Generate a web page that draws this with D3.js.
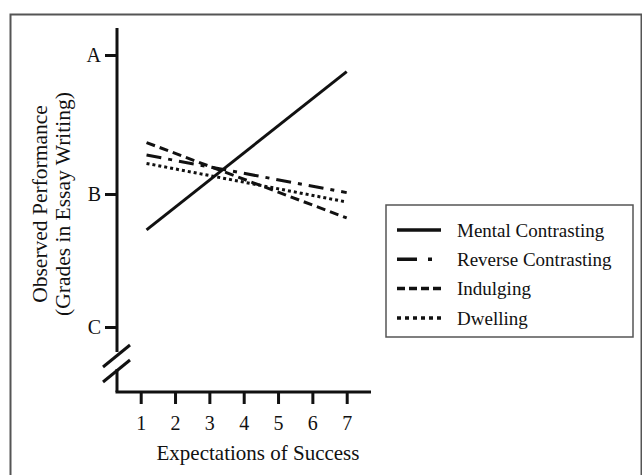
<!DOCTYPE html>
<html>
<head>
<meta charset="utf-8">
<script src="https://cdn.jsdelivr.net/npm/d3@7"></script>
<style>
  body { margin: 0; background: #fff; }
  svg text { font-family: "Liberation Serif", "Times New Roman", serif; fill: #111; }
</style>
</head>
<body>
<div id="chart"></div>
<script>
// expectation levels on the x axis
var expectations = [1, 2, 3, 4, 5, 6, 7];
// grade letters on the y axis (C = 2, B = 3, A = 4)
var gradeLabels = ["C", "B", "A"];
var gradeValues = [2, 3, 4];

// fitted lines: value at low end and at high end
var lineStart = 1.17, lineEnd = 7;
var seriesNames = ["Mental Contrasting", "Reverse Contrasting", "Indulging", "Dwelling"];
var mentalContrasting = [2.73, 3.88];
var reverseContrasting = [3.28, 3.01];
var indulging = [3.37, 2.82];
var dwelling = [3.22, 2.94];

var W = 642, H = 475;
var svg = d3.select("#chart").append("svg").attr("width", W).attr("height", H);

// frame round the figure
svg.append("rect")
    .attr("x", 10.5).attr("y", 14.5)
    .attr("width", 631).attr("height", 480)
    .attr("fill", "none").attr("stroke", "#555").attr("stroke-width", 2);

var axisX = 117, axisY = 392;

var x = d3.scaleLinear().domain([1, 7]).range([140.7, 346.7]);
// grades are not spaced quite evenly in the original
var y = d3.scaleLinear().domain(gradeValues).range([327, 194, 55]);

// y ticks + labels
var yAxis = svg.append("g")
    .attr("transform", "translate(" + axisX + ",0)")
    .call(d3.axisLeft(y).tickValues(gradeValues)
        .tickFormat(function(d, i){ return gradeLabels[i]; })
        .tickSize(12).tickPadding(4).tickSizeOuter(0));
yAxis.select(".domain").remove();
yAxis.selectAll("line").attr("stroke", "#111").attr("stroke-width", 3);
yAxis.selectAll("text").attr("font-size", 20).attr("font-family", null).attr("fill", null);

// x ticks + labels
var xAxis = svg.append("g")
    .attr("transform", "translate(0," + axisY + ")")
    .call(d3.axisBottom(x).tickValues(expectations)
        .tickFormat(d3.format("d"))
        .tickSize(12).tickPadding(12).tickSizeOuter(0));
xAxis.select(".domain").remove();
xAxis.selectAll("line").attr("stroke", "#111").attr("stroke-width", 3);
xAxis.selectAll("text").attr("font-size", 20).attr("font-family", null).attr("fill", null);

// axis lines, y axis has a break near the bottom
var axisG = svg.append("g").attr("stroke", "#111").attr("stroke-width", 3).attr("fill", "none");
axisG.append("line").attr("x1", axisX).attr("y1", 28).attr("x2", axisX).attr("y2", 352);
axisG.append("line").attr("x1", axisX).attr("y1", 369).attr("x2", axisX).attr("y2", axisY);
axisG.append("line").attr("x1", axisX - 1.5).attr("y1", axisY).attr("x2", 371).attr("y2", axisY);
axisG.append("line").attr("x1", 103).attr("y1", 367).attr("x2", 130).attr("y2", 345);
axisG.append("line").attr("x1", 103).attr("y1", 382).attr("x2", 130).attr("y2", 360);

// axis titles
svg.append("text")
    .attr("x", 258).attr("y", 460)
    .attr("text-anchor", "middle").attr("font-size", 21)
    .text("Expectations of Success");

var yTitle = svg.append("text")
    .attr("transform", "translate(47,204) rotate(-90)")
    .attr("text-anchor", "middle").attr("font-size", 21.5);
yTitle.append("tspan").attr("x", 0).attr("y", 0).text("Observed Performance");
yTitle.append("tspan").attr("x", 0).attr("y", 23).text("(Grades in Essay Writing)");

// series lines
var series = [
    {name: seriesNames[0], values: mentalContrasting, dash: null, legendDash: null},
    {name: seriesNames[1], values: reverseContrasting, dash: "15,7,4,7", legendDash: "20,11,4,100"},
    {name: seriesNames[2], values: indulging, dash: "9,5", legendDash: "8,4"},
    {name: seriesNames[3], values: dwelling, dash: "3,3", legendDash: "4,4"}
];

var line = d3.line().x(function(d){ return x(d[0]); }).y(function(d){ return y(d[1]); });

svg.append("g").selectAll("path")
    .data(series)
    .enter()
    .append("path")
    .attr("d", function(d){ return line([[lineStart, d.values[0]], [lineEnd, d.values[1]]]); })
    .attr("fill", "none")
    .attr("stroke", "#111")
    .attr("stroke-width", 3)
    .attr("stroke-dasharray", function(d){ return d.dash; });

// legend
var legend = svg.append("g");
legend.append("rect")
    .attr("x", 386).attr("y", 205).attr("width", 247).attr("height", 132)
    .attr("fill", "#fff").attr("stroke", "#555").attr("stroke-width", 1.5);

var rows = legend.selectAll(".row")
    .data(series)
    .enter()
    .append("g")
    .attr("transform", function(d, i){ return "translate(397," + (230 + i * 29.3) + ")"; });
rows.append("line")
    .attr("x1", 0).attr("x2", 44)
    .attr("stroke", "#111").attr("stroke-width", 3.5)
    .attr("stroke-dasharray", function(d){ return d.legendDash; });
rows.append("text")
    .attr("x", 60).attr("dy", "0.35em").attr("font-size", 19)
    .text(function(d){ return d.name; });
</script>
</body>
</html>
